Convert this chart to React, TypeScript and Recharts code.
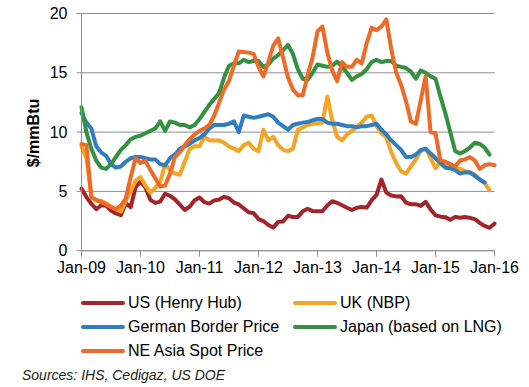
import React from 'react';
import { LineChart, Line, XAxis, YAxis, CartesianGrid, Label } from 'recharts';

const monthsCount = 85; // Jan-09 .. Jan-16
const xTickLabels = ['Jan-09', 'Jan-10', 'Jan-11', 'Jan-12', 'Jan-13', 'Jan-14', 'Jan-15', 'Jan-16'];
const yTicks = [0, 5, 10, 15, 20];

const usHenryHub = [
  5.24, 4.52, 3.96, 3.5, 3.83, 3.8, 3.38, 3.14, 2.99, 4.01, 3.66, 5.35,
  5.83, 5.32, 4.29, 4.03, 4.14, 4.8, 4.63, 4.32, 3.89, 3.43, 3.71, 4.25,
  4.49, 4.09, 3.97, 4.24, 4.31, 4.54, 4.42, 4.06, 3.9, 3.57, 3.24, 3.17,
  2.67, 2.5, 2.17, 1.95, 2.43, 2.46, 2.95, 2.84, 2.85, 3.32, 3.54, 3.34,
  3.33, 3.33, 3.81, 4.17, 4.04, 3.83, 3.62, 3.43, 3.62, 3.68, 3.64, 4.24,
  4.71, 6.0, 4.9, 4.66, 4.58, 4.59, 4.05, 3.91, 3.92, 3.78, 4.12, 3.48,
  2.99, 2.87, 2.83, 2.61, 2.85, 2.78, 2.84, 2.77, 2.66, 2.34, 2.09, 1.93,
  2.28,
];

const ukNbp = [
  8.8, 7.8, 4.6, 4.2, 4.2, 4.0, 3.7, 3.5, 3.3, 4.2, 5.0, 5.9,
  6.2, 5.5, 4.9, 5.3, 5.8, 7.3, 6.8, 6.5, 6.4, 7.5, 8.6, 8.8,
  8.8, 9.6, 9.3, 9.3, 9.3, 9.1, 8.8, 8.6, 8.4, 8.9, 9.1, 8.6,
  8.4, 10.2, 9.3, 9.6, 8.9, 8.5, 8.4, 8.6, 10.2, 10.4, 10.6, 10.7,
  10.75, 10.8, 13.0, 11.0, 9.6, 9.3, 9.8, 10.1, 10.45, 10.8, 11.3, 11.4,
  10.5, 9.9, 9.6, 8.3, 7.4, 6.7, 6.5, 7.1, 7.7, 8.4, 8.6, 7.8,
  6.95, 7.5, 7.4, 7.2, 7.0, 6.9, 6.7, 6.6, 6.4, 6.0, 5.7, 5.1,
  null,
];

const germanBorder = [
  11.6, 10.8, 10.3, 8.8, 8.3, 8.0, 7.3, 7.0, 7.1, 7.5, 7.8, 7.9,
  7.9, 7.8, 7.7, 7.7, 7.3, 7.2, 7.8, 8.1, 8.6, 8.8, 9.0, 9.3,
  9.5, 9.8, 10.3, 10.6, 10.6, 10.6, 10.7, 10.9, 10.0, 11.4, 11.3, 11.2,
  11.3, 11.4, 11.5, 11.3, 10.8, 10.5, 10.2, 10.6, 10.7, 10.8, 10.85, 11.0,
  11.1, 11.1, 10.8, 10.7, 10.7, 10.6, 10.5, 10.5, 10.4, 10.5, 10.5, 10.6,
  10.7, 10.2, 9.8, 9.3, 8.9, 8.5, 7.9, 7.9, 8.1, 8.5, 8.6, 8.2,
  7.8, 7.4, 7.0, 6.95, 6.8, 6.5, 6.6, 6.6, 6.3, 6.0, 5.75, null,
  null,
];

const japanLng = [
  12.1, 10.0, 8.6, 7.6, 7.0, 6.9, 7.3, 7.9, 8.5, 8.9, 9.4, 9.6,
  9.7, 9.9, 10.1, 10.3, 10.9, 10.1, 10.9, 10.8, 10.6, 10.6, 10.4, 10.6,
  11.1, 11.7, 12.3, 12.8, 13.3, 14.6, 15.6, 15.8, 15.8, 16.1, 15.9, 16.0,
  16.0, 15.5, 15.7, 16.2, 16.5, 16.9, 17.35, 16.6, 15.3, 14.5, 14.4, 15.0,
  15.7, 15.6, 15.5, 15.6, 15.95, 15.5, 15.0, 14.4, 14.7, 14.9, 15.3, 15.9,
  16.1, 15.9, 16.0, 16.0, 15.6, 15.5, 15.4, 15.1, 14.5, 15.2, 15.0, 14.7,
  14.5, 13.0, 11.6, 10.0, 8.4, 8.2, 8.4, 8.7, 9.1, 9.0, 8.7, 8.1,
  null,
];

const neAsiaSpot = [
  9.0, 8.9, 4.5, 4.3, 4.1, 3.9, 3.7, 3.5, 3.8, 4.4, 6.2, 7.8,
  7.4, 7.6, 6.8, 6.1, 5.4, 5.5, 6.5, 7.9, 8.3, 8.9, 9.4, 9.8,
  10.1, 10.3, 10.6, 11.4, 12.5, 13.6, 14.3, 15.6, 16.8, 16.75, 16.7, 16.6,
  15.5, 14.7, 15.9, 17.3, 17.9, 16.3, 14.6, 13.6, 13.1, 13.1, 14.8, 16.3,
  18.5, 18.9, 16.7, 15.2, 14.3, 15.9, 15.5, 15.5, 16.1, 15.8, 17.5, 18.8,
  18.6, 18.9, 19.5, 17.0, 15.0, 14.0, 12.6, 10.9, 10.7, 12.7, 14.7, 10.0,
  9.9, 7.6, 7.5, 7.3, 7.1, 7.6, 7.7, 7.9, 7.6, 6.9, 7.2, 7.3,
  7.2,
];

const seriesDefs = [
  { key: 'us', name: 'US (Henry Hub)', color: '#A3252A', values: usHenryHub },
  { key: 'uk', name: 'UK (NBP)', color: '#F6A423', values: ukNbp },
  { key: 'de', name: 'German Border Price', color: '#2F7DC2', values: germanBorder },
  { key: 'jp', name: 'Japan (based on LNG)', color: '#33913F', values: japanLng },
  { key: 'ne', name: 'NE Asia Spot Price', color: '#EF6A27', values: neAsiaSpot },
];

const data = Array.from({ length: monthsCount }, (_, i) => {
  const row: Record<string, number | null> = { m: i };
  seriesDefs.forEach((s) => {
    row[s.key] = s.values[i] ?? null;
  });
  return row;
});

const FONT = '"Liberation Sans", Arial, sans-serif';

const legendRows = [
  [seriesDefs[0], seriesDefs[1]],
  [seriesDefs[2], seriesDefs[3]],
  [seriesDefs[4]],
];

export default function App() {
  return (
    <div style={{ position: 'absolute', left: 0, top: 0, width: 529, height: 387, background: '#fff', fontFamily: FONT }}>
      <LineChart
        width={529}
        height={387}
        data={data}
        margin={{ top: 13.5, right: 34.5, left: 0, bottom: 106.3 }}
      >
        <CartesianGrid horizontal vertical={false} stroke="#8f8f8f" strokeWidth={1} />
        <XAxis
          dataKey="m"
          type="number"
          domain={[0, 84]}
          ticks={[0, 12, 24, 36, 48, 60, 72, 84]}
          tickFormatter={(v: number) => xTickLabels[v / 12]}
          height={30}
          stroke="#8f8f8f"
          tickSize={6}
          tickMargin={5}
          tick={{ fill: '#000', fontSize: 16, fontFamily: FONT }}
          interval={0}
        />
        <YAxis
          type="number"
          domain={[0, 20]}
          ticks={yTicks}
          width={81.5}
          stroke="#8f8f8f"
          tickSize={5}
          tickMargin={9}
          tick={{ fill: '#000', fontSize: 16, fontFamily: FONT }}
          interval={0}
        >
          <Label
            content={() => (
              <text
                x={33}
                y={133}
                transform="rotate(-90 33 133)"
                textAnchor="middle"
                dominantBaseline="central"
                fontFamily={FONT}
                fontSize={16}
                fontWeight="bold"
                fill="#000"
              >
                $/mmBtu
              </text>
            )}
          />
        </YAxis>
        {seriesDefs.map((s) => (
          <Line
            key={s.key}
            dataKey={s.key}
            name={s.name}
            type="linear"
            stroke={s.color}
            strokeWidth={4}
            dot={false}
            activeDot={false}
            isAnimationActive={false}
            strokeLinejoin="round"
            strokeLinecap="round"
          />
        ))}
      </LineChart>
      {legendRows.map((row, ri) =>
        row.map((s, ci) => {
          const swX = ci === 0 ? 81 : 293;
          const txtX = ci === 0 ? 128 : 340;
          const cy = 303 + ri * 24;
          return (
            <React.Fragment key={s.key}>
              <div
                style={{
                  position: 'absolute',
                  left: swX,
                  top: cy - 2.25,
                  width: 44,
                  height: 4.5,
                  borderRadius: 3,
                  background: s.color,
                }}
              />
              <div
                style={{
                  position: 'absolute',
                  left: txtX,
                  top: cy - 10,
                  height: 20,
                  lineHeight: '20px',
                  fontSize: 16,
                  color: '#000',
                  whiteSpace: 'nowrap',
                }}
              >
                {s.name}
              </div>
            </React.Fragment>
          );
        })
      )}
      <div
        style={{
          position: 'absolute',
          left: 22,
          top: 366,
          lineHeight: '18px',
          fontSize: 14,
          fontStyle: 'italic',
          color: '#222',
          whiteSpace: 'nowrap',
        }}
      >
        Sources: IHS, Cedigaz, US DOE
      </div>
    </div>
  );
}
